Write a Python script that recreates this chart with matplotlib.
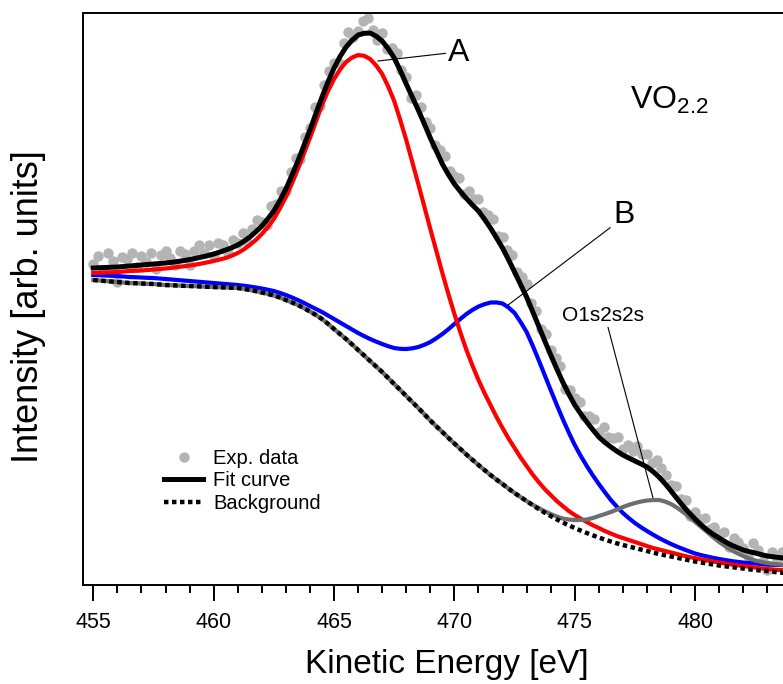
import numpy as np
import matplotlib
matplotlib.use("Agg")
import matplotlib.pyplot as plt
from matplotlib.ticker import MultipleLocator

plt.rcParams['font.family'] = ['Liberation Sans', 'DejaVu Sans']
plt.rcParams['mathtext.fontset'] = 'custom'
plt.rcParams['mathtext.rm'] = 'Liberation Sans'

# ── Spectrum: VO2.2, O1s2s2s Auger region ─────────────────────────────────────
# fit components on a 0.25 eV grid, measured points on a 0.2 eV grid
energy_fit = np.arange(455.0, 484.1, 0.25)
energy_exp = np.arange(455.0, 483.65, 0.2)

background = [305, 304.5, 304, 303.5, 303, 302.5, 302, 301.8, 301.5, 301.2,
              301, 300.5, 300, 299.8, 299.5, 299.2, 299, 298.8, 298.5, 298.2,
              298, 297.8, 297.5, 297.3, 297, 296.2, 295, 293.9, 292.5, 291.1,
              289.5, 287.5, 285, 282.6, 280, 276.9, 273.5, 270, 266, 261.2,
              256, 251, 246, 240.6, 235, 229.5, 224, 218.5, 213, 207,
              201, 195, 189, 183, 177, 170.8, 164.5, 158.7, 153, 147.2,
              141.5, 136, 130.5, 125.2, 120, 115, 110, 105.4, 101, 96.4,
              92, 87.9, 84, 79.9, 76, 72.4, 69, 65.7, 62.5, 59.7,
              57, 54.4, 52, 49.7, 47.5, 45.4, 43.5, 41.7, 40, 38.5,
              37, 35.5, 34, 32.5, 31, 29.7, 28.5, 27.2, 26, 24.7,
              23.5, 22.5, 21.5, 20.5, 19.5, 18.7, 18, 17.2, 16.5, 15.7,
              15, 14.5, 14, 13.2, 12.5, 12, 11.5]

peak_A = [312, 312.2, 312.5, 312.8, 313, 313.5, 314, 314.2, 314.5, 315,
          315.5, 316, 316.5, 317.2, 318, 318.7, 319.5, 320.4, 321.5, 322.7,
          324, 325.5, 327, 329.3, 332, 335.5, 340, 345, 351, 358,
          366, 376.5, 388, 401.5, 416, 431.5, 447, 463.5, 480, 494,
          506, 515.5, 523, 527.5, 530, 529.2, 526, 519.5, 511, 498.5,
          484, 465, 445, 423, 401, 378.5, 356, 334, 312, 291,
          271, 252.5, 235, 219.5, 205, 192, 180, 168, 157, 146.5,
          137, 127.5, 119, 110.5, 103, 96, 90, 84, 79, 74,
          70, 66.3, 63, 59.8, 57, 54, 51.5, 49, 47, 45,
          43, 41, 39, 37, 35.5, 34, 32.5, 31, 29.5, 28,
          27, 25.7, 24.5, 23.5, 22.5, 21.5, 20.5, 19.7, 19, 18.2,
          17.5, 16.7, 16, 15.5, 15, 14.7, 14.5]

peak_B = [310, 309.8, 309.5, 309.2, 309, 308.5, 308, 307.8, 307.5, 307.2,
          307, 306.5, 306, 305.5, 305, 304.5, 304, 303.5, 303, 302.5,
          302, 301.5, 301, 300.5, 300, 299.3, 298.5, 297.6, 296.5, 295.3,
          294, 292.1, 290, 287.6, 285, 282.1, 279, 276, 273, 269.5,
          266, 262.5, 259, 255.5, 252, 248.9, 246, 243.4, 241, 238.8,
          237, 236.2, 236, 236.7, 238, 240.2, 243, 246.8, 251, 255.8,
          261, 266.1, 271, 275.1, 278.5, 280.8, 282.5, 282.6, 281.5, 277.5,
          272, 263, 253, 239.5, 225, 210, 195, 180.3, 166, 152.6,
          140, 129, 119, 109.7, 101, 92.8, 85, 78.3, 72, 66.8,
          62, 57.8, 54, 50.4, 47, 43.9, 41, 38.4, 36, 33.7,
          31.5, 29.9, 28.5, 27.2, 26, 25, 24, 23.2, 22.5, 22,
          21.5, 21, 20.5, 20.2, 20, 19.8, 19.5]

peak_O1s2s2s = [305, 304.5, 304, 303.5, 303, 302.5, 302, 301.8, 301.5, 301.2,
                301, 300.5, 300, 299.8, 299.5, 299.2, 299, 298.8, 298.5, 298.2,
                298, 297.8, 297.5, 297.3, 297, 296.2, 295, 293.9, 292.5, 291.1,
                289.5, 287.5, 285, 282.6, 280, 276.9, 273.5, 270, 266, 261.2,
                256, 251, 246, 240.6, 235, 229.5, 224, 218.5, 213, 207,
                201, 195, 189, 183, 177, 170.8, 164.5, 158.7, 153, 147.2,
                141.5, 136, 130.5, 125.2, 120, 115, 110, 105.4, 101, 96.4,
                92, 88, 84, 80.3, 77, 73.8, 71, 68.5, 66.5, 65.5,
                65, 65, 65.5, 67, 69, 71, 73, 75.5, 78, 80.2,
                82, 83.5, 84.5, 85, 85, 83.5, 81, 77.3, 73, 68.2,
                63, 58, 53, 47.8, 43, 38.8, 35, 31.8, 29, 26.6,
                24.5, 23.1, 22, 21.2, 20.5, 20, 19.5]

fit_curve = [317, 317.3, 317.5, 317.8, 318, 318.5, 319, 319.5, 320, 320.5,
             321, 321.5, 322, 322.7, 323.5, 324.4, 325.5, 326.7, 328, 329.4,
             331, 332.9, 335, 337.3, 340, 343.7, 348, 353.2, 359, 366.2,
             374, 384.5, 396, 409.7, 424, 439.5, 455, 471.7, 488, 503.2,
             517, 528.5, 538, 544.8, 550, 551.7, 552, 548.8, 544, 536.3,
             527, 514.6, 501, 488, 475, 461.2, 447, 434, 421, 410.5,
             401, 393.5, 386.5, 380, 374, 365.8, 357, 347.2, 337, 325.3,
             313, 300.5, 288, 273.5, 259, 244.3, 230, 216.3, 203, 191,
             180, 171.2, 163, 155.3, 148, 142.6, 138, 133.8, 130, 127,
             124, 121.2, 118, 113.5, 108, 101.4, 94, 86.4, 79, 72.3,
             66, 60.2, 55, 50.7, 47, 43.3, 40, 37.4, 35, 33.4,
             32, 30.4, 29, 28.2, 27.5, 26.7, 26]

exp_data = [321, 329, 314, 332, 324, 303, 328, 326, 332, 318,
            329, 323, 332, 316, 330, 334, 327, 320, 334, 331,
            320, 334, 340, 332, 340, 329, 342, 340, 332, 345,
            342, 352, 343, 356, 365, 363, 360, 379, 381, 394,
            394, 413, 427, 426, 448, 457, 478, 479, 500, 514,
            522, 522, 542, 553, 548, 554, 564, 567, 555, 545,
            552, 536, 537, 532, 515, 508, 487, 490, 478, 463,
            457, 440, 435, 429, 414, 409, 407, 391, 394, 386,
            386, 373, 370, 366, 349, 348, 335, 330, 313, 308,
            301, 282, 274, 256, 251, 235, 227, 219, 196, 195,
            187, 183, 169, 169, 166, 153, 158, 148, 147, 148,
            136, 140, 134, 139, 131, 131, 122, 125, 117, 110,
            100, 99, 86, 85, 69, 73, 66, 67, 56, 58,
            51, 53, 38, 47, 43, 37, 29, 42, 35, 24,
            15, 33, 25, 33]

# ── Figure ────────────────────────────────────────────────────────────────────
fig = plt.figure(figsize=(7.83, 6.84), dpi=100, facecolor="white")
ax = fig.add_axes([0.1064, 0.1447, 0.8936, 0.8370])

h_exp, = ax.plot(energy_exp, exp_data, linestyle="none", marker="o",
                 ms=7.5, color="#b4b4b4", mec="none", zorder=1)
ax.plot(energy_fit, peak_B, color="#0000ff", lw=3.0, zorder=2)
ax.plot(energy_fit, peak_A, color="#ff0000", lw=3.0, zorder=3)
ax.plot(energy_fit, peak_O1s2s2s, color="#6e6e6e", lw=3.0, zorder=4)
h_fit, = ax.plot(energy_fit, fit_curve, color="black", lw=3.6, zorder=5)
h_bg, = ax.plot(energy_fit, background, color="black", lw=3.2,
                linestyle=(0, (1.0, 0.8)), dash_capstyle="butt", zorder=6)

ax.legend([h_exp, h_fit, h_bg], ["Exp. data", "Fit curve", "Background"],
          loc="upper left", bbox_to_anchor=(0.1153, 0.238), frameon=False,
          fontsize=14.5, borderpad=0, borderaxespad=0, handlelength=1.95,
          handletextpad=0.5, labelspacing=0.18)

# peak labels
line_kw = dict(arrowstyle="-", color="black", lw=0.8, shrinkA=0, shrinkB=0)
ax.annotate("A", xy=(466.82, 524), xytext=(469.75, 532), fontsize=23,
            ha="left", va="center", arrowprops=dict(line_kw, relpos=(0, 0.5)))
ax.annotate("B", xy=(472.23, 280), xytext=(476.59, 370), fontsize=23,
            ha="left", va="center", arrowprops=dict(line_kw, relpos=(0, 0.15)))
ax.annotate("O1s2s2s", xy=(478.25, 87), xytext=(476.18, 270), fontsize=15,
            ha="center", va="center", arrowprops=dict(line_kw, relpos=(0.55, 0)))
ax.text(477.29, 476, r"VO$_{\mathregular{2.2}}$", fontsize=23,
        ha="left", va="baseline")

ax.set_xlim(454.585, 483.65)
ax.set_ylim(0, 572.5)
ax.xaxis.set_major_locator(MultipleLocator(5))
ax.xaxis.set_minor_locator(MultipleLocator(1))
ax.tick_params(axis="x", which="major", direction="out", length=11.3,
               width=1.4, labelsize=15.5, pad=8)
ax.tick_params(axis="x", which="minor", direction="out", length=6, width=1.4)
ax.tick_params(axis="y", left=False, labelleft=False)
for side in ("left", "bottom", "top"):
    ax.spines[side].set_linewidth(1.4)
ax.spines["right"].set_visible(False)

ax.set_xlabel("Kinetic Energy [eV]", fontsize=24)
ax.xaxis.set_label_coords(0.52, -0.112)
ax.set_ylabel("Intensity [arb. units]", fontsize=26)
ax.yaxis.set_label_coords(-0.0533, 0.487)

fig.savefig("out.png", dpi=100, facecolor="white")
